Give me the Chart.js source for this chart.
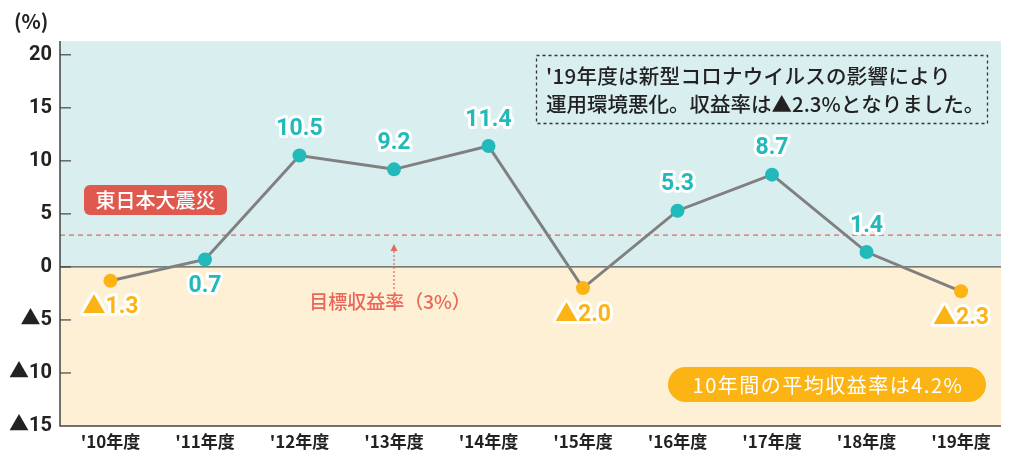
<!DOCTYPE html>
<html><head><meta charset="utf-8">
<script src="https://cdn.jsdelivr.net/npm/chart.js@4"></script>
<style>html,body{margin:0;padding:0;background:#fff}#c{display:block}</style>
</head><body>
<div style="width:1011px;height:458px"><canvas id="c" width="1011" height="458"></canvas></div>
<script>
const categories = ["'10年度","'11年度","'12年度","'13年度","'14年度","'15年度","'16年度","'17年度","'18年度","'19年度"];
const returns = [-1.3, 0.7, 10.5, 9.2, 11.4, -2.0, 5.3, 8.7, 1.4, -2.3];
const labelBelow = [true, true, false, false, false, true, false, false, false, true];
const yTicks = [-15, -10, -5, 0, 5, 10, 15, 20];
const yTickLabels = ["▲15","▲10","▲5","0","5","10","15","20"];
const targetRate = 3;

const TEAL = '#22b9bb', ORANGE = '#fbb414', RED = '#e0594e';
const JP = '"Noto Sans CJK JP","Noto Sans",sans-serif';
const NUM = 'Roboto,"Noto Sans CJK JP",sans-serif';

function rrect(ctx,x,y,w,h,r){ctx.beginPath();ctx.moveTo(x+r,y);ctx.arcTo(x+w,y,x+w,y+h,r);ctx.arcTo(x+w,y+h,x,y+h,r);ctx.arcTo(x,y+h,x,y,r);ctx.arcTo(x,y,x+w,y,r);ctx.closePath();}

const deco = {
  id:'deco',
  beforeDatasetsDraw(chart){
    const {ctx, chartArea:a, scales:{x,y}} = chart;
    const y0 = y.getPixelForValue(0);
    ctx.save();
    ctx.fillStyle='#d9eeee'; ctx.fillRect(a.left,a.top,a.right-a.left,y0-a.top);
    ctx.fillStyle='#fdf0d4'; ctx.fillRect(a.left,y0,a.right-a.left,a.bottom-y0);
    const yt = y.getPixelForValue(targetRate);
    ctx.strokeStyle='#e8675a'; ctx.lineWidth=1.4; ctx.setLineDash([5,4]);
    ctx.beginPath(); ctx.moveTo(a.left,yt); ctx.lineTo(a.right,yt); ctx.stroke();
    ctx.setLineDash([]);
    ctx.strokeStyle='#555'; ctx.lineWidth=1.2;
    ctx.beginPath(); ctx.moveTo(a.left,y0); ctx.lineTo(a.right,y0); ctx.stroke();
    ctx.strokeStyle='#444'; ctx.lineWidth=1.5;
    ctx.beginPath(); ctx.moveTo(a.left,a.top); ctx.lineTo(a.left,a.bottom); ctx.lineTo(a.right,a.bottom); ctx.stroke();
    ctx.lineWidth=1.2;
    yTicks.forEach(v=>{ if(v===-15) return; const py=y.getPixelForValue(v); ctx.beginPath(); ctx.moveTo(a.left,py); ctx.lineTo(a.left+11,py); ctx.stroke();});
    ctx.fillStyle='#222'; ctx.font='600 20px '+JP; ctx.textAlign='left'; ctx.textBaseline='middle';
    ctx.fillText('(%)',14,21);
    ctx.strokeStyle='#333'; ctx.lineWidth=1.3; ctx.setLineDash([3,3]);
    ctx.strokeRect(536.5,55.5,451,68);
    ctx.setLineDash([]);
    ctx.fillStyle='#222'; ctx.font='500 20.5px '+JP; ctx.textAlign='left';
    ctx.letterSpacing='0.3px';
    ctx.fillText("'19年度は新型コロナウイルスの影響により",546,76);
    ctx.letterSpacing='0px';
    ctx.fillText("運用環境悪化。収益率は▲2.3%となりました。",546,104);
    ctx.fillStyle=RED; rrect(ctx,84,185,143,30,6); ctx.fill();
    ctx.fillStyle='#fff'; ctx.font='500 20px '+JP; ctx.textAlign='center';
    ctx.fillText('東日本大震災',155.5,200);
    ctx.fillStyle=ORANGE; rrect(ctx,668,367,318,35,17.5); ctx.fill();
    ctx.fillStyle='#fff'; ctx.font='400 20px '+JP; ctx.textAlign='center';
    ctx.letterSpacing='1.5px';
    ctx.fillText('10年間の平均収益率は4.2%',828,385);
    ctx.letterSpacing='0px';
    const ax = x.getPixelForValue(3);
    ctx.strokeStyle='#e8675a'; ctx.lineWidth=1.2; ctx.setLineDash([2,2]);
    ctx.beginPath(); ctx.moveTo(ax,289); ctx.lineTo(ax,250); ctx.stroke(); ctx.setLineDash([]);
    ctx.fillStyle='#e8675a'; ctx.beginPath(); ctx.moveTo(ax,244); ctx.lineTo(ax-3.5,251); ctx.lineTo(ax+3.5,251); ctx.closePath(); ctx.fill();
    ctx.font='500 19px '+JP; ctx.fillText('目標収益率（3%）',ax-4,302);
    ctx.restore();
  },
  afterDatasetsDraw(chart){
    const {ctx} = chart; const meta = chart.getDatasetMeta(0);
    ctx.save();
    ctx.font='bold 23px '+NUM; ctx.textAlign='center'; ctx.textBaseline='middle';
    ctx.lineJoin='round'; ctx.lineWidth=6; ctx.strokeStyle='#fff';
    meta.data.forEach((p,i)=>{
      const v = returns[i];
      const txt = v<0 ? '▲'+Math.abs(v).toFixed(1) : v.toFixed(1);
      const py = labelBelow[i] ? p.y+27 : p.y-26;
      ctx.fillStyle = v<0 ? ORANGE : TEAL;
      ctx.strokeText(txt,p.x,py); ctx.fillText(txt,p.x,py);
    });
    ctx.restore();
  }
};

new Chart(document.getElementById('c'),{
  type:'line',
  data:{datasets:[{data:returns.map((v,i)=>({x:i,y:v})),borderColor:'#808080',borderWidth:3,
    pointBackgroundColor:returns.map(v=>v<0?ORANGE:TEAL),pointBorderWidth:0,pointRadius:7,tension:0}]},
  options:{responsive:false,animation:false,
    layout:{padding:{top:41,right:10,left:0,bottom:0}},
    plugins:{legend:{display:false},tooltip:{enabled:false}},
    scales:{
      x:{type:'linear',min:-0.534,max:9.423,grid:{display:false},border:{display:false},
        afterBuildTicks(s){s.ticks=categories.map((c,i)=>({value:i}));},
        ticks:{color:'#222',font:{family:JP,size:17,weight:'bold'},padding:-3,maxRotation:0,autoSkip:false,
          callback:(v)=>categories[v]},
        afterFit(s){s.height=32;}},
      y:{min:-15,max:21.3,grid:{display:false},border:{display:false},
        afterBuildTicks(s){s.ticks=yTicks.map(v=>({value:v}));},
        ticks:{color:'#222',font:{family:NUM,size:20,weight:'bold'},padding:0,
          callback:(v)=>{const i=yTicks.indexOf(v);return i>=0?yTickLabels[i]:'';}},
        afterFit(s){s.width=60;}}
    }
  },
  plugins:[deco]
});
</script>
</body></html>
